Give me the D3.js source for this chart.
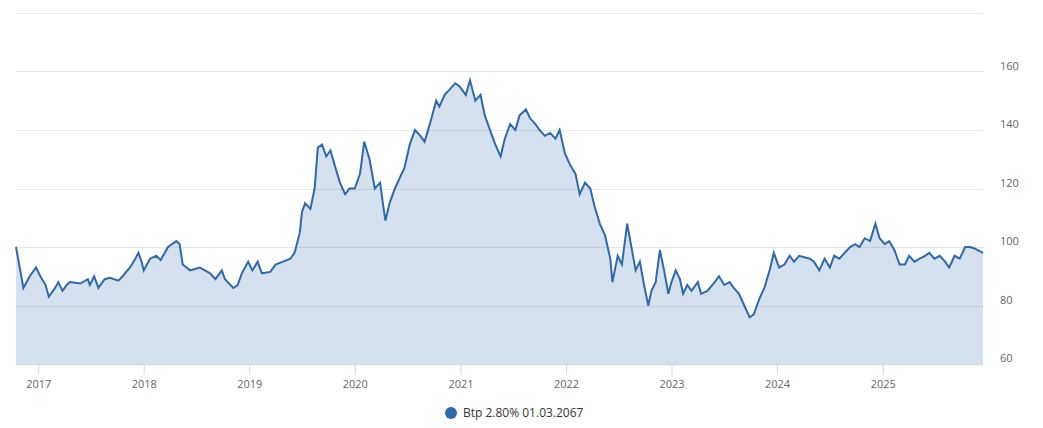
<!DOCTYPE html>
<html><head><meta charset="utf-8">
<script src="https://cdn.jsdelivr.net/npm/d3@7"></script>
<style>body{margin:0;background:#fff;font-family:"Open Sans",sans-serif}</style>
</head><body><svg id="chart" width="1043" height="428"></svg>
<script>
// decimal-year dates and prices
var years = [2016.79,2016.86,2016.92,2016.98,2017.02,2017.07,2017.10,2017.16,2017.19,2017.23,2017.27,2017.30,2017.40,2017.47,2017.49,2017.53,2017.57,2017.63,2017.68,2017.76,2017.80,2017.87,2017.92,2017.95,2017.98,2018.00,2018.06,2018.12,2018.16,2018.23,2018.31,2018.34,2018.37,2018.44,2018.53,2018.63,2018.68,2018.74,2018.77,2018.85,2018.89,2018.93,2018.99,2019.03,2019.08,2019.12,2019.20,2019.25,2019.32,2019.39,2019.43,2019.48,2019.50,2019.53,2019.58,2019.62,2019.65,2019.69,2019.73,2019.77,2019.81,2019.86,2019.91,2019.95,2020.00,2020.05,2020.09,2020.14,2020.19,2020.24,2020.27,2020.29,2020.33,2020.38,2020.43,2020.47,2020.52,2020.57,2020.62,2020.66,2020.71,2020.77,2020.80,2020.85,2020.90,2020.95,2020.99,2021.05,2021.09,2021.14,2021.19,2021.23,2021.28,2021.33,2021.38,2021.42,2021.47,2021.52,2021.56,2021.62,2021.66,2021.71,2021.75,2021.80,2021.85,2021.90,2021.94,2021.99,2022.04,2022.09,2022.13,2022.18,2022.23,2022.27,2022.32,2022.37,2022.42,2022.44,2022.49,2022.53,2022.58,2022.63,2022.66,2022.70,2022.74,2022.78,2022.81,2022.85,2022.89,2022.93,2022.97,2023.00,2023.04,2023.08,2023.11,2023.15,2023.19,2023.25,2023.28,2023.34,2023.41,2023.45,2023.50,2023.55,2023.59,2023.64,2023.69,2023.74,2023.78,2023.83,2023.88,2023.93,2023.97,2024.02,2024.07,2024.12,2024.16,2024.21,2024.31,2024.35,2024.40,2024.45,2024.50,2024.54,2024.59,2024.64,2024.69,2024.74,2024.78,2024.83,2024.88,2024.93,2024.97,2025.02,2025.06,2025.11,2025.16,2025.21,2025.25,2025.30,2025.35,2025.40,2025.44,2025.49,2025.54,2025.59,2025.63,2025.68,2025.73,2025.78,2025.83,2025.87,2025.95];
var prices = [100,86,90,93,90,87,83,86,88,85,87,88,87.5,89,87,90,86,89,89.5,88.5,90,93,96,98,95,92,96,97,95.5,100,102,101,94,92,93,91,89,92,89,86,87,91,95,92,95,91,91.5,94,95,96,98,105,112,115,113,120,134,135,131,133,128,122,118,120,120,125,136,130,120,122,114,109,115,120,124,127,135,140,138,136,142,150,148,152,154,156,155,152,157,150,152,145,140,135,131,137,142,140,145,147,144,142,140,138,139,137,140,132,128,125,118,122,120,114,108,104,96,88,97,94,108,98,92,95,87,80,85,88,99,92,84,88,92,89,84,87,85,88,84,85,88,90,87,88,86,84,80,76,77,82,86,92,98,93,94,97,95,97,96,95,92,96,93,97,96,98,100,101,100,103,102,108,103,101,102,99,94,94,97,95,96,97,98,96,97,95,93,97,96,100,100,99.5,98];
var yTicks = [60,80,100,120,140,160];
var xTickYears = [2017,2018,2019,2020,2021,2022,2023,2024,2025];
var seriesName = "Btp 2.80% 01.03.2067";

function toDate(y){var yr=Math.floor(y);var s=new Date(yr,0,1),e=new Date(yr+1,0,1);return new Date(+s+(y-yr)*(e-s));}
var data = years.map(function(y,i){return {d:toDate(y),v:prices[i]};});

var svg = d3.select("#chart");
var pLeft=16,pRight=983,pTop=13,pBottom=364;
var x = d3.scaleTime().domain([data[0].d,data[data.length-1].d]).range([pLeft,pRight]);
var y = d3.scaleLinear().domain([60,180]).range([pBottom,pTop]);

svg.selectAll(".grid").data(yTicks.concat([180])).enter().append("line")
  .attr("x1",pLeft).attr("x2",pRight).attr("y1",d=>Math.round(y(d))+0.5).attr("y2",d=>Math.round(y(d))+0.5)
  .attr("stroke","#e6e6e6");

svg.append("path").datum(data)
  .attr("d",d3.area().x(d=>x(d.d)).y0(y(60)).y1(d=>y(d.v)))
  .attr("fill","#2f69ad").attr("fill-opacity",0.2);
svg.append("path").datum(data)
  .attr("d",d3.line().x(d=>x(d.d)).y(d=>y(d.v)))
  .attr("fill","none").attr("stroke","#2f69ad").attr("stroke-width",2);

svg.append("line").attr("x1",pLeft).attr("x2",pRight).attr("y1",pBottom+0.5).attr("y2",pBottom+0.5).attr("stroke","#ccd6eb");
var xa = svg.append("g").attr("transform","translate(0,"+(pBottom+0.5)+")")
  .call(d3.axisBottom(x).tickValues(xTickYears.map(v=>new Date(v,0,1))).tickFormat(d3.timeFormat("%Y")).tickSize(10).tickPadding(6));
xa.select(".domain").remove();
xa.selectAll("line").attr("stroke","#ccd6eb");
xa.selectAll("text").attr("fill","#666").style("font-size","11px").style("font-family","Open Sans");

var ya = svg.append("g").attr("transform","translate(1000,0)")
  .call(d3.axisRight(y).tickValues(yTicks).tickSize(0).tickPadding(0));
ya.select(".domain").remove();
ya.selectAll("text").attr("fill","#666").attr("dy","-0.2em").style("font-size","11px").style("font-family","Open Sans");

svg.append("circle").attr("cx",451).attr("cy",413).attr("r",6).attr("fill","#2f69ad");
svg.append("text").attr("x",463).attr("y",417).text(seriesName).attr("fill","#333").style("font-size","12px");
</script></body></html>
